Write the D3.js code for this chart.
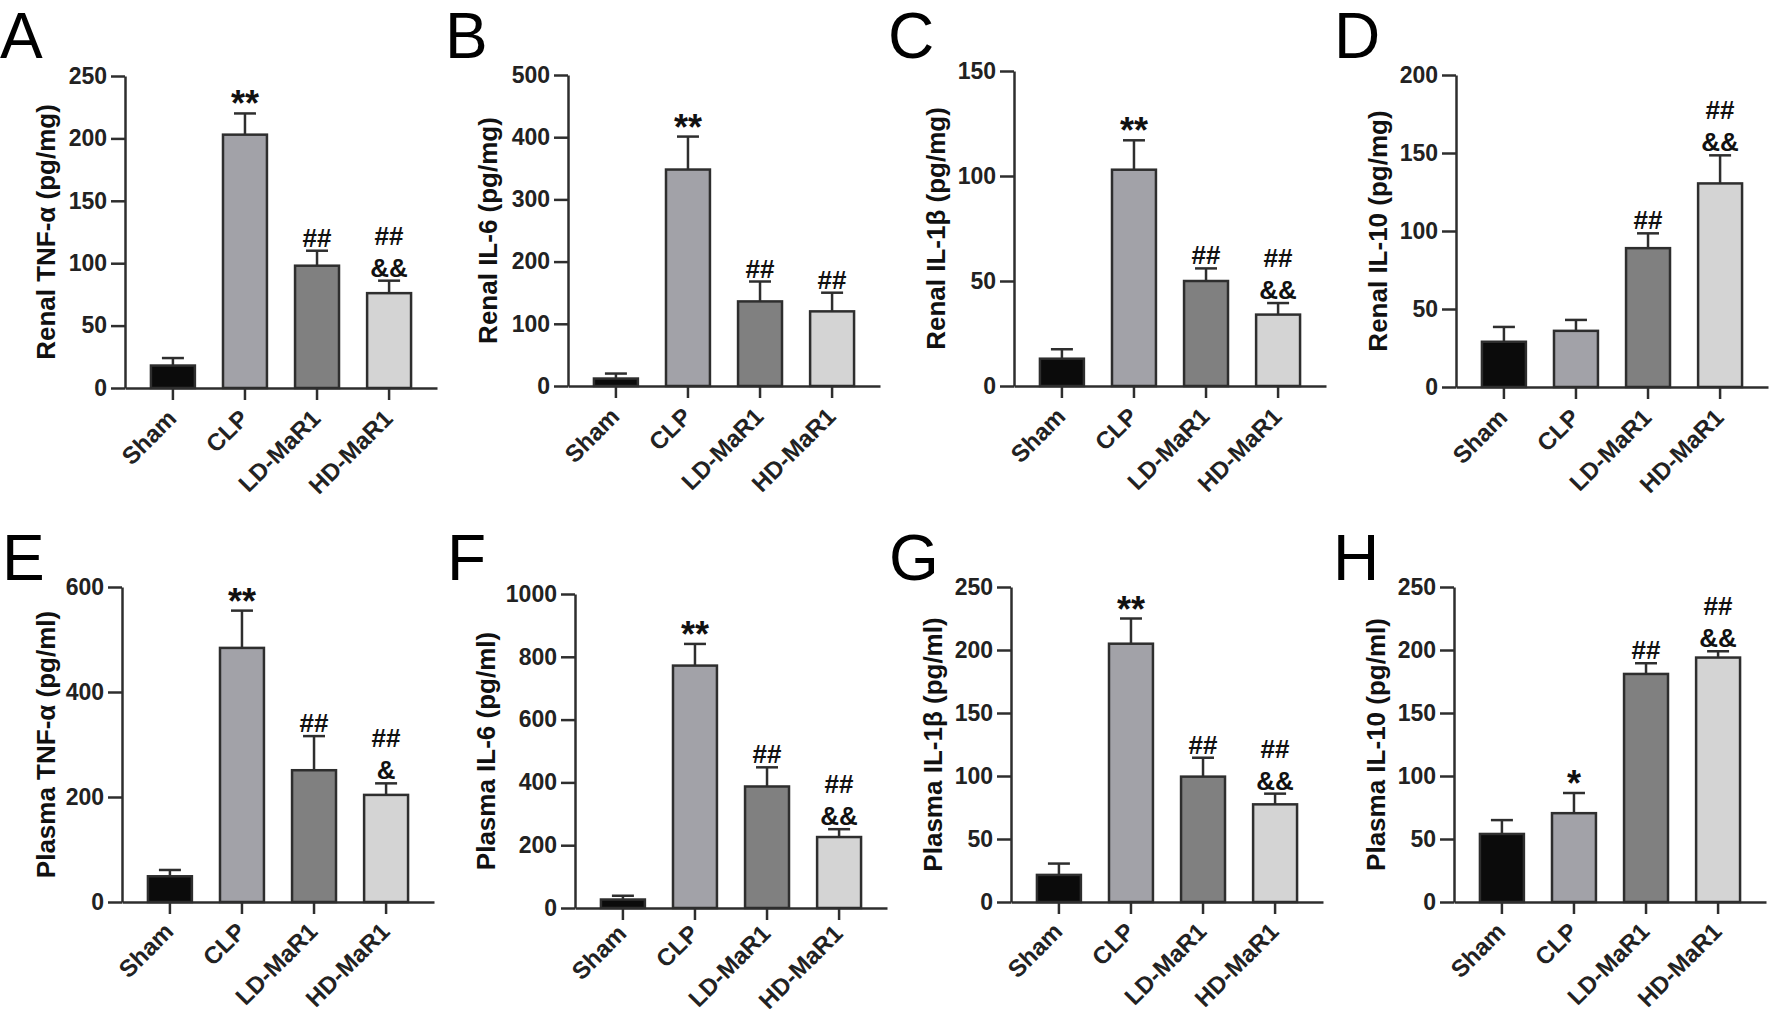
<!DOCTYPE html>
<html>
<head>
<meta charset="utf-8">
<script src="https://cdn.jsdelivr.net/npm/d3@7"></script>
<style>
  body { margin: 0; background: #fff; }
  svg { display: block; }
  text { font-family: "Liberation Sans", Arial, sans-serif; }
</style>
</head>
<body>
<svg id="chart" width="1772" height="1017"></svg>
<script>
// groups on the x axis, same in every panel
var groups = ["Sham", "CLP", "LD-MaR1", "HD-MaR1"];

var letters = ["A", "B", "C", "D", "E", "F", "G", "H"];
var yLabels = [
  "Renal TNF-α (pg/mg)", "Renal IL-6 (pg/mg)", "Renal IL-1β (pg/mg)", "Renal IL-10 (pg/mg)",
  "Plasma TNF-α (pg/ml)", "Plasma IL-6 (pg/ml)", "Plasma IL-1β (pg/ml)", "Plasma IL-10 (pg/ml)"
];
var yMax = [250, 500, 150, 200, 600, 1000, 250, 250];
var yStep = [50, 100, 50, 50, 200, 200, 50, 50];

// mean and SEM
var means = [
  [18, 203, 98, 76],
  [12, 348, 136, 120],
  [13, 103, 50, 34],
  [29, 36, 89, 130.5],
  [49, 484, 251, 204],
  [27, 772, 387, 226],
  [21.5, 205, 99.5, 77.5],
  [54, 70.5, 181, 194]
];
var sems = [
  [6, 17, 12, 10],
  [8, 53, 32, 30],
  [4.5, 14, 6, 5.5],
  [9.5, 7, 9.5, 18],
  [12, 71, 65, 22],
  [12, 69, 61, 25],
  [9, 20, 15, 8.5],
  [11, 16, 8.5, 5]
];
// significance marks, top line first
var marks = [
  [[], ["**"], ["##"], ["##", "&&"]],
  [[], ["**"], ["##"], ["##"]],
  [[], ["**"], ["##"], ["##", "&&"]],
  [[], [], ["##"], ["##", "&&"]],
  [[], ["**"], ["##"], ["##", "&"]],
  [[], ["**"], ["##"], ["##", "&&"]],
  [[], ["**"], ["##"], ["##", "&&"]],
  [[], ["*"], ["##"], ["##", "&&"]]
];

// layout (pixels)
var axisX = [125, 568, 1014, 1456, 122, 575, 1011, 1454];
var axisTop = [76, 75, 71, 75, 587, 594, 587, 587];
var axisBot = [388, 386, 386, 387, 902, 908, 902, 902];
var labelOff = [70, 71, 69, 69, 67, 80, 69, 69];
var xLabDy = [32, 32, 32, 32, 31, 27, 31, 31];
var letterX = [0, 445, 888, 1334, 2, 447, 889, 1333];
var letterY = [58, 58, 58, 58, 580, 580, 580, 580];
var barFill = ["#0b0b0b", "#a2a2a8", "#808080", "#d4d4d4"];
var ink = "#2e2e2e";
var axisW = 312;

var svg = d3.select("#chart");

for (var p = 0; p < 8; p++) {
  drawPanel(p);
}

function drawPanel(p) {
  var g = svg.append("g").attr("transform", "translate(" + axisX[p] + ",0)");

  var x = d3.scaleBand()
    .domain(groups)
    .range([0, axisW])
    .paddingInner(0.39)
    .paddingOuter(0.36);

  var y = d3.scaleLinear()
    .domain([0, yMax[p]])
    .range([axisBot[p], axisTop[p]]);

  var rows = groups.map(function(name, i) {
    return {name: name, mean: means[p][i], sem: sems[p][i], marks: marks[p][i], fill: barFill[i]};
  });

  // bars
  g.selectAll("rect.bar")
    .data(rows)
    .enter().append("rect")
    .attr("class", "bar")
    .attr("x", function(d) { return x(d.name); })
    .attr("width", x.bandwidth())
    .attr("y", function(d) { return y(d.mean); })
    .attr("height", function(d) { return y(0) - y(d.mean); })
    .style("fill", function(d) { return d.fill; })
    .style("stroke", ink)
    .style("stroke-width", 2.5);

  // error bars (upper only)
  var cx = function(d) { return x(d.name) + x.bandwidth() / 2; };
  g.selectAll("line.err")
    .data(rows)
    .enter().append("line")
    .attr("class", "err")
    .attr("x1", cx).attr("x2", cx)
    .attr("y1", function(d) { return y(d.mean); })
    .attr("y2", function(d) { return y(d.mean + d.sem); })
    .style("stroke", ink).style("stroke-width", 2.5);
  g.selectAll("line.cap")
    .data(rows)
    .enter().append("line")
    .attr("class", "cap")
    .attr("x1", function(d) { return cx(d) - 11; })
    .attr("x2", function(d) { return cx(d) + 11; })
    .attr("y1", function(d) { return y(d.mean + d.sem); })
    .attr("y2", function(d) { return y(d.mean + d.sem); })
    .style("stroke", ink).style("stroke-width", 2.5);

  // significance marks
  rows.forEach(function(d) {
    var top = y(d.mean + d.sem);
    var n = d.marks.length;
    d.marks.forEach(function(m, k) {
      var star = m.indexOf("*") >= 0;
      var base = star ? top + 3 : top - 4 - (n - 1 - k) * 32;
      g.append("text")
        .attr("x", cx(d))
        .attr("y", base)
        .attr("text-anchor", "middle")
        .style("font-weight", "bold")
        .style("font-size", star ? "36px" : "26px")
        .style("fill", "#111")
        .text(m);
    });
  });

  // y axis
  var ticks = d3.range(0, yMax[p] + 0.001, yStep[p]);
  var yAxis = g.append("g")
    .call(d3.axisLeft(y).tickValues(ticks).tickFormat(d3.format("d"))
      .tickSize(14).tickSizeOuter(0).tickPadding(4));
  yAxis.selectAll("text")
    .style("font-size", "23px").style("font-weight", "bold").style("fill", "#222")
    .style("font-family", "'Liberation Sans', Arial, sans-serif");

  // x axis
  var xAxis = g.append("g")
    .attr("transform", "translate(0," + axisBot[p] + ")")
    .call(d3.axisBottom(x).tickSize(12).tickSizeOuter(0));
  xAxis.selectAll("text")
    .attr("y", 0).attr("dy", 0)
    .attr("transform", "translate(5," + xLabDy[p] + ") rotate(-45)")
    .style("text-anchor", "end")
    .style("font-size", "24px").style("font-weight", "bold").style("fill", "#222")
    .style("font-family", "'Liberation Sans', Arial, sans-serif");

  [yAxis, xAxis].forEach(function(a) {
    a.select(".domain").style("stroke", ink).style("stroke-width", 2.5);
    a.selectAll(".tick line").style("stroke", ink).style("stroke-width", 2.5);
  });

  // y label
  var midY = (axisTop[p] + axisBot[p]) / 2;
  g.append("text")
    .attr("transform", "translate(" + (-labelOff[p]) + "," + midY + ") rotate(-90)")
    .attr("text-anchor", "middle")
    .style("font-size", "26px")
    .style("font-weight", "bold")
    .style("fill", "#111")
    .text(yLabels[p]);

  // panel letter
  svg.append("text")
    .attr("x", letterX[p])
    .attr("y", letterY[p])
    .style("font-size", "64px")
    .style("fill", "#000")
    .text(letters[p]);
}
</script>
</body>
</html>
